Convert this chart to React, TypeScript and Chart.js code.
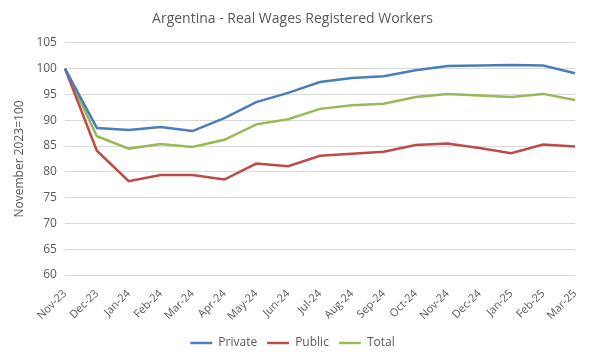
import React, { useEffect, useRef } from "react";
import { Chart, registerables } from "chart.js";

Chart.register(...registerables);

const categories = ["Nov-23","Dec-23","Jan-24","Feb-24","Mar-24","Apr-24","May-24","Jun-24","Jul-24","Aug-24","Sep-24","Oct-24","Nov-24","Dec-24","Jan-25","Feb-25","Mar-25"];
const privateValues = [100, 88.5, 88.1, 88.7, 87.9, 90.4, 93.5, 95.3, 97.4, 98.2, 98.5, 99.7, 100.5, 100.6, 100.7, 100.6, 99.1];
const publicValues = [100, 84.1, 78.2, 79.4, 79.4, 78.5, 81.6, 81.1, 83.1, 83.5, 83.9, 85.2, 85.5, 84.6, 83.6, 85.3, 84.9];
const totalValues = [100, 86.9, 84.5, 85.4, 84.8, 86.2, 89.2, 90.2, 92.2, 92.9, 93.2, 94.5, 95.1, 94.8, 94.5, 95.1, 93.9];

export default function App() {
  const ref = useRef<HTMLCanvasElement>(null);
  useEffect(() => {
    document.body.style.margin = "0";
    const font = "'Open Sans', sans-serif";
    const chart = new Chart(ref.current!, {
      type: "line",
      data: {
        labels: categories,
        datasets: [
          { label: "Private", data: privateValues, borderColor: "#4A7EBB", backgroundColor: "#4A7EBB", borderWidth: 2.5, pointRadius: 0, tension: 0 },
          { label: "Public", data: publicValues, borderColor: "#BE4B48", backgroundColor: "#BE4B48", borderWidth: 2.5, pointRadius: 0, tension: 0 },
          { label: "Total", data: totalValues, borderColor: "#98B954", backgroundColor: "#98B954", borderWidth: 2.5, pointRadius: 0, tension: 0 },
        ],
      },
      options: {
        animation: false,
        responsive: false,
        layout: { padding: { left: 10, right: 25, top: 6, bottom: 1 } },
        plugins: {
          title: {
            display: true,
            text: "Argentina - Real Wages Registered Workers",
            color: "#595959",
            font: { family: font, size: 14, weight: "normal" },
            padding: { top: 5, bottom: 15 },
          },
          legend: {
            position: "bottom",
            labels: {
              color: "#595959",
              font: { family: font, size: 12 },
              usePointStyle: true,
              pointStyle: "line",
              pointStyleWidth: 22,
              boxHeight: 3,
              padding: 10,
            },
          },
          tooltip: { enabled: false },
        },
        scales: {
          x: {
            grid: { display: false },
            border: { display: false },
            ticks: { color: "#595959", font: { family: font, size: 11 }, maxRotation: 45, minRotation: 45, autoSkip: false, padding: 4 },
          },
          y: {
            min: 60,
            max: 105,
            ticks: { stepSize: 5, color: "#595959", font: { family: font, size: 12 }, padding: 8 },
            grid: { color: "#D9D9D9", drawTicks: false },
            border: { display: false },
            title: { display: true, text: "November 2023=100", color: "#595959", font: { family: font, size: 12 }, padding: 2 },
          },
        },
      },
    });
    return () => chart.destroy();
  }, []);
  return <canvas ref={ref} width={600} height={360} />;
}
